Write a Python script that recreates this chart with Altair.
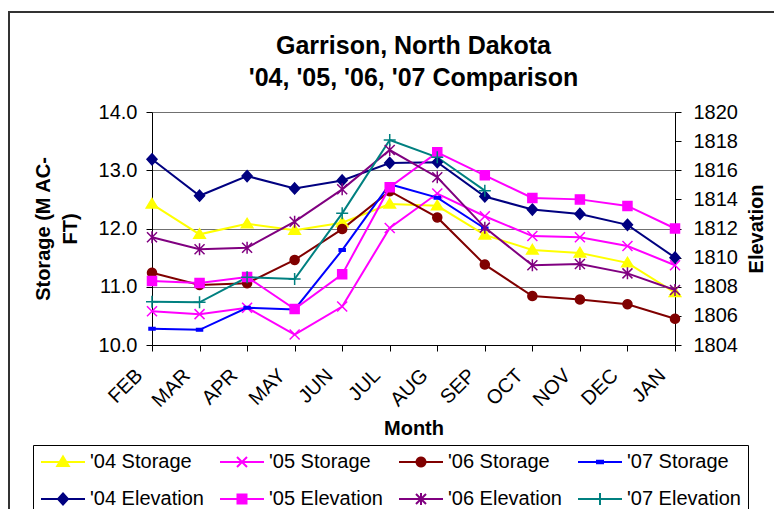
import math
import altair as alt
import pandas as pd

months = ["FEB", "MAR", "APR", "MAY", "JUN", "JUL", "AUG", "SEP", "OCT", "NOV", "DEC", "JAN"]

storage_names = ["'04 Storage", "'05 Storage", "'06 Storage", "'07 Storage"]
elevation_names = ["'04 Elevation", "'05 Elevation", "'06 Elevation", "'07 Elevation"]
series_names = storage_names + elevation_names
series_colors = ["#FFFF00", "#FF00FF", "#800000", "#0000FF",
                 "#000080", "#FF00FF", "#800080", "#008080"]

storage_04 = [12.42, 11.90, 12.08, 11.97, 12.10, 12.42, 12.39, 11.89, 11.63, 11.58, 11.41, 10.90]
storage_05 = [10.58, 10.53, 10.64, 10.18, 10.66, 12.01, 12.60, 12.21, 11.87, 11.85, 11.70, 11.37]
storage_06 = [11.24, 11.03, 11.06, 11.46, 11.99, 12.64, 12.19, 11.38, 10.84, 10.78, 10.70, 10.45]
storage_07 = [10.28, 10.26, 10.64, 10.61, 11.63, 12.76, 12.53, 12.00, None, None, None, None]

elevation_04 = [1816.75, 1814.25, 1815.6, 1814.75, 1815.3, 1816.5, 1816.55, 1814.2, 1813.3, 1813.0, 1812.25, 1810.0]
elevation_05 = [1808.4, 1808.26, 1808.67, 1806.47, 1808.85, 1814.83, 1817.23, 1815.65, 1814.1, 1814.0, 1813.55, 1812.0]
elevation_06 = [1811.4, 1810.57, 1810.68, 1812.47, 1814.69, 1817.39, 1815.52, 1812.06, 1809.47, 1809.56, 1808.92, 1807.78]
elevation_07 = [1806.97, 1806.93, 1808.65, 1808.53, 1813.04, 1818.08, 1816.89, 1814.6, None, None, None, None]

storage_values = [storage_04, storage_05, storage_06, storage_07]
elevation_values = [elevation_04, elevation_05, elevation_06, elevation_07]

rows = []
for kind, names, table in (("storage", storage_names, storage_values),
                           ("elevation", elevation_names, elevation_values)):
    for name, vals in zip(names, table):
        for m, v in zip(months, vals):
            if v is not None:
                rows.append({"month": m, "series": name, "value": v, "kind": kind})
df = pd.DataFrame(rows)

# ---- marker geometry (unit coordinates) ----
circle_pts = [(0.9 * math.cos(2 * math.pi * i / 20), 0.9 * math.sin(2 * math.pi * i / 20)) for i in range(20)]
markers = {
    "'04 Storage": [([(0, -1.1), (1.15, 0.8), (-1.15, 0.8)], True)],
    "'05 Storage": [([(-1, -1), (1, 1)], False), ([(-1, 1), (1, -1)], False)],
    "'06 Storage": [(circle_pts, True)],
    "'07 Storage": [([(-0.6, -0.25), (0.6, -0.25), (0.6, 0.25), (-0.6, 0.25)], True)],
    "'04 Elevation": [([(0, -1.1), (1.0, 0), (0, 1.1), (-1.0, 0)], True)],
    "'05 Elevation": [([(-0.9, -0.9), (0.9, -0.9), (0.9, 0.9), (-0.9, 0.9)], True)],
    "'06 Elevation": [([(-1, -1), (1, 1)], False), ([(-1, 1), (1, -1)], False), ([(0, -1.2), (0, 1.2)], False)],
    "'07 Elevation": [([(-1.2, 0), (1.2, 0)], False), ([(0, -1.2), (0, 1.2)], False)],
}


def to_path(parts, s=1.0):
    out = []
    for pts, closed in parts:
        out.append("M" + "L".join(f"{x * s:.3f},{y * s:.3f}" for x, y in pts) + ("Z" if closed else ""))
    return "".join(out)


PLOT_SIZE = 100       # unit = 5 px
LEGEND_SIZE = 324     # unit = 9 px
LEG_UNIT = 9.0
plot_paths = {n: to_path(markers[n]) for n in series_names}
half_line = 22.0 / LEG_UNIT
legend_paths = [f"M{-half_line:.3f},0L{half_line:.3f},0" + to_path(markers[n], 5 / LEG_UNIT)
                for n in series_names]

FONT = "Liberation Sans"

x_enc = alt.X(
    "month:N", sort=months,
    scale=alt.Scale(type="point", domain=months, padding=0),
    axis=alt.Axis(title="Month", labelAngle=315, labelAlign="right", labelBaseline="middle",
                  labelPadding=21, labelOffset=-13, titlePadding=8, tickSize=6),
)

color_scale = alt.Scale(domain=series_names, range=series_colors)

base = alt.Chart(df)

# ---- storage (left axis) ----
st_y = alt.Y(
    "value:Q",
    scale=alt.Scale(domain=[10, 14], nice=False, zero=False),
    axis=alt.Axis(title=["Storage (M AC-", "FT)"], orient="left", values=[10, 11, 12, 13, 14],
                  format=".1f", grid=True, gridColor="#707070", tickSize=6, labelPadding=9,
                  titlePadding=18, titleLineHeight=27),
)
st_data = base.transform_filter("datum.kind == 'storage'")
st_line = st_data.mark_line(strokeWidth=2).encode(
    x=x_enc, y=st_y,
    stroke=alt.Stroke("series:N", scale=color_scale, legend=None),
)
st_pts = st_data.mark_point(filled=True, opacity=1, strokeWidth=1.5, size=PLOT_SIZE).encode(
    x=x_enc, y=st_y,
    fill=alt.Fill("series:N", scale=color_scale, legend=None),
    stroke=alt.Stroke("series:N", scale=color_scale, legend=None),
    shape=alt.Shape("series:N", scale=alt.Scale(domain=storage_names,
                                                range=[plot_paths[n] for n in storage_names]), legend=None),
)
st_group = alt.layer(st_line, st_pts)

# ---- elevation (right axis) ----
el_y = alt.Y(
    "value:Q",
    scale=alt.Scale(domain=[1804, 1820], nice=False, zero=False),
    axis=alt.Axis(title="Elevation", orient="right", values=list(range(1804, 1821, 2)),
                  format="d", grid=False, tickSize=6, labelPadding=12, titlePadding=29,
                  titleAngle=270),
)
el_data = base.transform_filter("datum.kind == 'elevation'")
el_line = el_data.mark_line(strokeWidth=2).encode(
    x=x_enc, y=el_y,
    stroke=alt.Stroke("series:N", scale=color_scale, legend=None),
)
el_pts = el_data.mark_point(filled=True, opacity=1, strokeWidth=1.5, size=PLOT_SIZE).encode(
    x=x_enc, y=el_y,
    fill=alt.Fill("series:N", scale=color_scale, legend=None),
    stroke=alt.Stroke("series:N", scale=color_scale, legend=None),
    shape=alt.Shape("series:N", scale=alt.Scale(domain=elevation_names,
                                                range=[plot_paths[n] for n in elevation_names]), legend=None),
)
el_group = alt.layer(el_line, el_pts)

# ---- legend-only layer ----
leg = alt.Legend(
    orient="none", legendX=-119, legendY=333, columns=4, direction="horizontal", title=None,
    symbolSize=LEGEND_SIZE, symbolStrokeWidth=2, symbolOffset=13, labelFont=FONT, labelFontSize=20,
    labelColor="black", labelOffset=17, columnPadding=12, rowPadding=16, padding=7,
    strokeColor="black",
)
legend_layer = base.transform_filter("false").mark_point(
    filled=True, opacity=1, strokeWidth=2, size=LEGEND_SIZE
).encode(
    fill=alt.Fill("series:N", scale=color_scale, legend=leg),
    stroke=alt.Stroke("series:N", scale=color_scale, legend=leg),
    shape=alt.Shape("series:N", scale=alt.Scale(domain=series_names, range=legend_paths), legend=leg),
)

# ---- outer chart-area frame ----
frame = alt.Chart(pd.DataFrame({"a": [0]})).mark_rect(
    fillOpacity=0, stroke="#333333", strokeWidth=2
).encode(
    x=alt.value(-143), x2=alt.value(900), y=alt.value(-100), y2=alt.value(700)
)

chart = alt.layer(frame, st_group, el_group, legend_layer).resolve_scale(
    y="independent", fill="independent", stroke="independent", shape="independent"
).properties(
    width=523, height=233,
    padding={"left": 144, "top": 104, "right": 99, "bottom": 164},
    autosize=alt.AutoSizeParams(type="none"),
    title=alt.TitleParams(
        text=["Garrison, North Dakota", "'04, '05, '06, '07 Comparison"],
        fontSize=25, fontWeight="bold", font=FONT, anchor="middle", frame="group",
        offset=8, dy=88, lineHeight=32, color="black",
    ),
).configure(
    font=FONT,
).configure_axis(
    labelFont=FONT, labelFontSize=20, labelColor="black",
    titleFont=FONT, titleFontSize=20, titleFontWeight="bold", titleColor="black",
    domainColor="black", tickColor="black", domainWidth=1,
).configure_view(
    strokeWidth=0,
)

chart.save("out.html", embed_options={"renderer": "svg", "actions": False})
